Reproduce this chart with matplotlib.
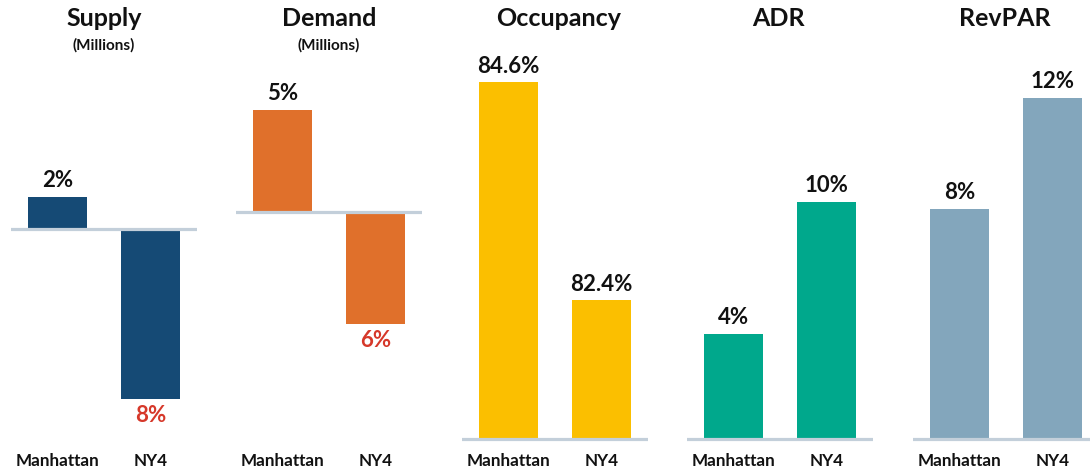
import matplotlib
matplotlib.use("Agg")
import matplotlib.pyplot as plt

# ---- data ----
categories = ["Manhattan", "NY4"]
panel_titles = ["Supply", "Demand", "Occupancy", "ADR", "RevPAR"]
panel_subtitles = ["(Millions)", "(Millions)", "", "", ""]
supply_change = [1.6, -8.5]      # % change
demand_change = [5.1, -5.6]      # % change
occupancy = [84.6, 82.4]         # % level
adr_change = [4.4, 9.9]          # % change
revpar_change = [8.1, 12.0]      # % change
label_formats = ["{:.0f}%", "{:.0f}%", "{:.1f}%", "{:.0f}%", "{:.0f}%"]

series = [supply_change, demand_change, occupancy, adr_change, revpar_change]
colors = ["#154a75", "#e0702b", "#fbbf00", "#00a88c", "#83a6bc"]
baselines = [0.0, 0.0, 81.0, 0.0, 0.0]
ylims = [(-10.8, 8.95), (-11.65, 8.1), (80.94, 84.925), (-0.25, 16.25), (-0.211, 13.69)]

W, H = 1090, 471
fig = plt.figure(figsize=(W / 100, H / 100), dpi=100)
plt.rcParams["font.family"] = ["Lato", "DejaVu Sans"]

lefts = [11, 236, 462, 687, 913]
title_shift = [0, 0, 4, -2, -1]
ax_w = 186
top_px, bot_px = 50, 445
neg_color = "#d6382a"
line_color = "#c3cfda"
text_color = "#111111"

for i, vals in enumerate(series):
    ax = fig.add_axes([lefts[i] / W, 1 - bot_px / H, ax_w / W, (bot_px - top_px) / H])
    base = baselines[i]
    x = list(range(len(categories)))
    heights = [v - base for v in vals]
    ax.bar(x, heights, bottom=base, width=0.634, color=colors[i], zorder=2)
    ax.axhline(base, color=line_color, lw=2.3, zorder=3)
    ax.set_xlim(-0.5, 1.5)
    ax.set_ylim(*ylims[i])
    for xi, v in zip(x, vals):
        txt = label_formats[i].format(abs(v))
        if v >= base:
            ax.annotate(txt, (xi, v), xytext=(0, 4), textcoords="offset points",
                        ha="center", va="bottom", fontsize=16, fontweight="bold",
                        color=text_color)
        else:
            ax.annotate(txt, (xi, v), xytext=(0, -4), textcoords="offset points",
                        ha="center", va="top", fontsize=16, fontweight="bold",
                        color=neg_color)
    ax.set_xticks(x)
    ax.set_xticklabels(categories, fontsize=12.3, fontweight="bold", color=text_color)
    ax.tick_params(axis="x", length=0, pad=6)
    ax.set_yticks([])
    for s in ax.spines.values():
        s.set_visible(False)
    cx = (lefts[i] + ax_w / 2 + title_shift[i]) / W
    fig.text(cx, 1 - 19 / H, panel_titles[i], ha="center", va="center",
             fontsize=18, fontweight="bold", color=text_color)
    if panel_subtitles[i]:
        fig.text(cx, 1 - 45 / H, panel_subtitles[i], ha="center", va="center",
                 fontsize=11, fontweight="bold", color=text_color)

fig.savefig("out.png", dpi=100, facecolor="white")
